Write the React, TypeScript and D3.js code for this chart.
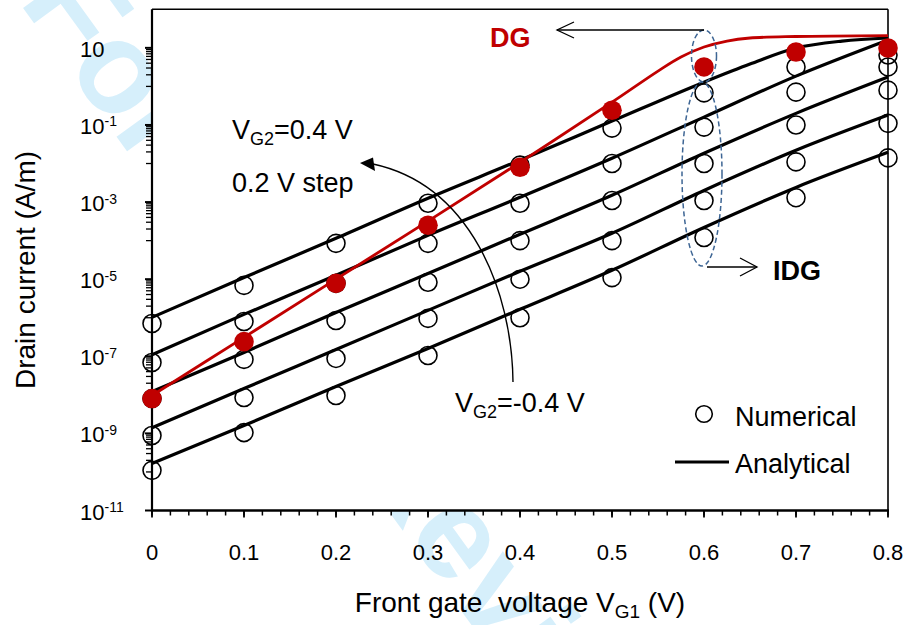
import React from "react";
import * as d3 from "d3";

// ---------- data ----------
const vg1 = [0, 0.1, 0.2, 0.3, 0.4, 0.5, 0.6, 0.7, 0.8];
const vg2Steps = ["0.4", "0.2", "0", "-0.2", "-0.4"];

// Numerical (open circles), drain current in A/m
const numVG2p04 = [7.1e-7, 6.9e-6, 8.5e-5, 9.3e-4, 9.1e-3, 8.3e-2, 0.68, 3.2, 6.5];
const numVG2p02 = [6.9e-8, 8.0e-7, 7.8e-6, 8.5e-5, 9.3e-4, 1.0e-2, 8.8e-2, 0.71, 3.2];
const numVG2p00 = [8.0e-9, 8.3e-8, 8.5e-7, 8.3e-6, 1.0e-4, 1.1e-3, 1.0e-2, 0.1, 0.8];
const numVG2m02 = [8.8e-10, 8.5e-9, 8.8e-8, 9.6e-7, 1.0e-5, 1.0e-4, 1.1e-3, 1.1e-2, 0.11];
const numVG2m04 = [1.1e-10, 1.05e-9, 9.6e-9, 1.05e-7, 1.0e-6, 1.1e-5, 1.2e-4, 1.3e-3, 1.4e-2];
// DG numerical (filled red dots)
const numDG = [8.0e-9, 2.4e-7, 7.8e-6, 2.5e-4, 8.0e-3, 0.24, 3.2, 7.8, 9.9];

// Analytical (black lines)
const anaVG1Top = [0, 0.1, 0.2, 0.3, 0.4, 0.5, 0.6, 0.65, 0.7, 0.75, 0.8];
const anaVG2p04 = [1.02e-6, 1.1e-5, 1.15e-4, 1.26e-3, 1.22e-2, 0.126, 1.29, 3.8, 9.9, 15, 18];
const anaVG2p02 = [1.1e-7, 1.22e-6, 1.26e-5, 1.37e-4, 1.33e-3, 1.37e-2, 0.16, 1.85, 16];
const anaVG2p00 = [1.22e-8, 1.26e-7, 1.37e-6, 1.4e-5, 1.46e-4, 1.5e-3, 1.85e-2, 0.2, 1.75];
const anaVG2m02 = [1.4e-9, 1.46e-8, 1.5e-7, 1.55e-6, 1.6e-5, 1.55e-4, 2.0e-3, 2.2e-2, 0.18];
const anaVG2m04 = [1.65e-10, 1.6e-9, 1.65e-8, 1.6e-7, 1.65e-6, 1.7e-5, 2.2e-4, 2.4e-3, 1.95e-2];
// DG analytical (red line)
const anaDGVG1 = [0, 0.1, 0.2, 0.3, 0.4, 0.5, 0.55, 0.575, 0.6, 0.625, 0.65, 0.7, 0.8];
const anaDG = [9.6e-9, 3.1e-7, 1.0e-5, 3.2e-4, 1.07e-2, 0.39, 2.5, 5.8, 10.5, 15, 18, 19.7, 20.8];

// Axes
const xTicks = [0, 0.1, 0.2, 0.3, 0.4, 0.5, 0.6, 0.7, 0.8];
const xTickLabels = ["0", "0.1", "0.2", "0.3", "0.4", "0.5", "0.6", "0.7", "0.8"];
const yLabelExps = [1, -1, -3, -5, -7, -9, -11];

const FONT = "'Liberation Sans', Arial, Helvetica, sans-serif";
const RED = "#c00000";
const WM = "#d6effb";
const DASH = "#3d6594";

export default function App() {
  const L = 152, R = 888, T = 9.3, B = 510.5;
  const x = d3.scaleLinear().domain([0, 0.8]).range([L, R]);
  const y = d3.scaleLog().domain([1e-11, 1e2]).range([B, T]);

  const line = d3
    .line<[number, number]>()
    .x((d) => x(d[0]))
    .y((d) => y(d[1]))
    .curve(d3.curveMonotoneX);
  const smooth = d3
    .line<[number, number]>()
    .x((d) => x(d[0]))
    .y((d) => y(d[1]))
    .curve(d3.curveCatmullRom.alpha(0.5));

  const numSeries = [numVG2p04, numVG2p02, numVG2p00, numVG2m02, numVG2m04];
  const anaSeries: [number[], number[]][] = [
    [anaVG1Top, anaVG2p04],
    [vg1, anaVG2p02],
    [vg1, anaVG2p00],
    [vg1, anaVG2m02],
    [vg1, anaVG2m04],
  ];

  const xMinor: number[] = [];
  for (let i = 0; i <= 40; i++) xMinor.push(i * 0.02);
  const yMinor: number[] = [];
  yLabelExps.forEach((e) => {
    if (e > -11) for (let m = 1; m <= 9; m++) yMinor.push(m * Math.pow(10, e - 1));
  });

  return (
    <svg
      width={909}
      height={625}
      style={{ position: "absolute", left: 0, top: 0, background: "#fff" }}
      fontFamily={FONT}
    >
      <rect x={0} y={0} width={909} height={625} fill="#fff" />
      {/* watermark (mostly hidden behind the plot area) */}
      <text
        x={18}
        y={1}
        transform="rotate(54 18 1)"
        fontSize={130}
        fontWeight="bold"
        fill={WM}
        fontFamily={FONT}
      >
        For Peer Review
      </text>

      {/* plot area */}
      <rect x={L} y={T} width={R - L} height={B - T} fill="#fff" />
      <line x1={L} y1={T} x2={R} y2={T} stroke="#000" strokeWidth={1.4} />
      <line x1={R} y1={T} x2={R} y2={B} stroke="#000" strokeWidth={1.6} />

      {/* x ticks */}
      {xMinor.map((v, i) => (
        <line key={"xm" + i} x1={x(v)} x2={x(v)} y1={B} y2={B + 5} stroke="#000" strokeWidth={1.5} />
      ))}
      {xTicks.map((v, i) => (
        <g key={"xt" + i}>
          <line x1={x(v)} x2={x(v)} y1={B} y2={B + 7} stroke="#000" strokeWidth={1.8} />
          <text x={x(v)} y={560} fontSize={22} textAnchor="middle">
            {xTickLabels[i]}
          </text>
        </g>
      ))}

      {/* y ticks */}
      {yMinor.map((v, i) => (
        <line key={"ym" + i} x1={L - 6} x2={L} y1={y(v)} y2={y(v)} stroke="#000" strokeWidth={1.3} />
      ))}
      {yLabelExps.map((e) => {
        const v = Math.pow(10, e);
        return (
          <g key={"yt" + e}>
            <line x1={L - 7} x2={L} y1={y(v)} y2={y(v)} stroke="#000" strokeWidth={2} />
            <text x={80} y={y(v) + 9} fontSize={22}>
              10
              {e !== 1 ? (
                <tspan fontSize={14} dy={-7.5}>
                  {String(e)}
                </tspan>
              ) : null}
            </text>
          </g>
        );
      })}

      {/* axis lines */}
      <line x1={L} y1={T} x2={L} y2={B + 1} stroke="#000" strokeWidth={2.2} />
      <line x1={L - 1} y1={B} x2={R + 1} y2={B} stroke="#000" strokeWidth={2.4} />

      {/* numerical circles */}
      {numSeries.map((s, si) =>
        s.map((v, i) => (
          <circle
            key={"c" + si + "-" + i}
            cx={x(vg1[i])}
            cy={y(v)}
            r={9}
            fill="none"
            stroke="#000"
            strokeWidth={1.6}
          >
            <title>{"VG2=" + vg2Steps[si]}</title>
          </circle>
        ))
      )}

      {/* analytical black lines */}
      {anaSeries.map(([xs, ys], si) => (
        <path
          key={"a" + si}
          d={line(xs.map((v, i) => [v, ys[i]] as [number, number])) || ""}
          fill="none"
          stroke="#000"
          strokeWidth={3.2}
        />
      ))}

      {/* DG analytical red line */}
      <path
        d={smooth(anaDGVG1.map((v, i) => [v, anaDG[i]] as [number, number])) || ""}
        fill="none"
        stroke={RED}
        strokeWidth={2.8}
      />
      {/* DG numerical red dots */}
      {numDG.map((v, i) => (
        <circle key={"d" + i} cx={x(vg1[i])} cy={y(v)} r={9.8} fill={RED} />
      ))}

      {/* dashed ellipses */}
      <ellipse cx={704} cy={56} rx={12.5} ry={26} fill="none" stroke={DASH} strokeWidth={1.5} strokeDasharray="5 3" />
      <ellipse cx={702} cy={174} rx={20} ry={92} fill="none" stroke={DASH} strokeWidth={1.5} strokeDasharray="5 3" />

      {/* DG arrow */}
      <line x1={704} y1={30} x2={557} y2={30} stroke="#000" strokeWidth={1.3} />
      <polyline points="574,22 557,30 574,38" fill="none" stroke="#000" strokeWidth={1.3} />
      <text x={490} y={47} fontSize={27} fontWeight="bold" fill={RED}>
        DG
      </text>

      {/* IDG arrow */}
      <line x1={707} y1={267} x2={757} y2={267} stroke="#000" strokeWidth={1.3} />
      <polyline points="740,258 757,267 740,276" fill="none" stroke="#000" strokeWidth={1.3} />
      <text x={773} y={280} fontSize={27} fontWeight="bold" fill="#000">
        IDG
      </text>

      {/* curved VG2 arrow */}
      <path d="M513,382 C512,290 470,185 373,164" fill="none" stroke="#000" strokeWidth={1.4} />
      <polygon points="360,163 373,157.5 375,171" fill="#000" />

      {/* annotations */}
      <text x={232} y={139} fontSize={27}>
        V<tspan fontSize={18} dy={6}>G2</tspan>
        <tspan dy={-6}>=0.4 V</tspan>
      </text>
      <text x={232} y={192} fontSize={27}>
        0.2 V step
      </text>
      <text x={455} y={412} fontSize={27}>
        V<tspan fontSize={18} dy={6}>G2</tspan>
        <tspan dy={-6}>=-0.4 V</tspan>
      </text>

      {/* legend */}
      <circle cx={704} cy={414} r={8.3} fill="none" stroke="#000" strokeWidth={1.6} />
      <text x={735} y={426} fontSize={27}>
        Numerical
      </text>
      <line x1={675} x2={729} y1={462} y2={462} stroke="#000" strokeWidth={3.2} />
      <text x={735} y={473} fontSize={27}>
        Analytical
      </text>

      {/* axis titles */}
      <text x={520} y={612} fontSize={28} textAnchor="middle">
        {"Front gate\u00a0 voltage V"}
        <tspan fontSize={19} dy={6}>G1</tspan>
        <tspan dy={-6}> (V)</tspan>
      </text>
      <text transform="translate(35,270) rotate(-90)" fontSize={28} textAnchor="middle">
        Drain current (A/m)
      </text>
    </svg>
  );
}
